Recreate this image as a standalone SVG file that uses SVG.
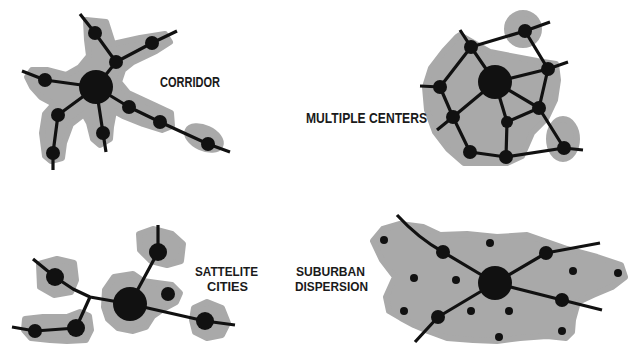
<svg xmlns="http://www.w3.org/2000/svg" width="634" height="344" viewBox="0 0 634 344">
<style>
.blob{fill:#a9a9a9;stroke:#a9a9a9;stroke-width:6;stroke-linejoin:round}
.ln{fill:none;stroke:#111;stroke-width:3.2;stroke-linecap:butt;stroke-linejoin:round}
.nd{fill:#111}
.lbl{font-family:"Liberation Sans",Arial,sans-serif;font-weight:bold;font-size:15px;fill:#1a1a1a}
.lbl2{font-family:"Liberation Sans",Arial,sans-serif;font-weight:bold;font-size:13px;fill:#1a1a1a}
</style>
<rect width="634" height="344" fill="#ffffff"/>

<g id="corridor">
<polygon class="blob" points="86,20 106,22 113,44 140,38 165,34 170,42 156,51 133,62 123,70 119,82 128,93 156,106 171,113 172,126 162,130 143,124 123,116 114,111 111,127 110,139 100,145 93,139 89,123 84,114 71,124 64,143 62,158 51,161 45,156 42,133 45,114 54,104 41,97 32,87 27,77 32,70 47,70 66,75 80,67 89,56 87,40"/>
<ellipse class="blob" cx="204" cy="138" rx="18" ry="10" transform="rotate(25 204 138)"/>
<path class="ln" d="M80,14 L95,33 L116,62 L96,87 M116,62 L152,43 L177,31 M22,71 L45,80 L96,87 M96,87 L58,115 L53,153 L53,170 M96,87 L103,133 L106,152 M96,87 L129,107 L160,122 L208,144 L230,152"/>
<circle class="nd" cx="96" cy="87" r="17"/>
<circle class="nd" cx="95" cy="33" r="7"/>
<circle class="nd" cx="116" cy="62" r="7"/>
<circle class="nd" cx="152" cy="43" r="7"/>
<circle class="nd" cx="45" cy="80" r="7"/>
<circle class="nd" cx="58" cy="115" r="7"/>
<circle class="nd" cx="53" cy="153" r="7"/>
<circle class="nd" cx="103" cy="133" r="7"/>
<circle class="nd" cx="129" cy="107" r="7"/>
<circle class="nd" cx="160" cy="122" r="7"/>
<circle class="nd" cx="208" cy="144" r="7"/>
<text class="lbl" x="160" y="87" textLength="60" lengthAdjust="spacingAndGlyphs">CORRIDOR</text>
</g>

<g id="multiple-centers">
<polygon class="blob" points="460,35 490,52 537,61 556,64 558,80 555,100 546,119 532,133 522,156 507,163 464,163 448,149 435,132 427,110 425,87 431,68 444,51 457,37"/>
<circle class="blob" cx="523" cy="29" r="16"/>
<ellipse class="blob" cx="563" cy="139" rx="14" ry="20"/>
<path class="ln" d="M460,30 L471,47 L525,31 L550,22 M525,31 L548,69 L568,62 M548,69 L495,82 M548,69 L539,108 L564,148 L583,150 M471,47 L495,82 M471,47 L440,87 L420,86 M440,87 L453,117 L437,130 M453,117 L495,82 M453,117 L470,152 L506,157 L564,148 M495,82 L539,108 L507,122 L495,82 M507,122 L506,157"/>
<circle class="nd" cx="495" cy="82" r="17"/>
<circle class="nd" cx="471" cy="47" r="7"/>
<circle class="nd" cx="525" cy="31" r="7"/>
<circle class="nd" cx="548" cy="69" r="7"/>
<circle class="nd" cx="440" cy="87" r="7"/>
<circle class="nd" cx="453" cy="117" r="7"/>
<circle class="nd" cx="539" cy="108" r="7"/>
<circle class="nd" cx="507" cy="122" r="6"/>
<circle class="nd" cx="470" cy="152" r="7"/>
<circle class="nd" cx="506" cy="157" r="7"/>
<circle class="nd" cx="564" cy="148" r="7"/>
<text class="lbl" x="306" y="123" textLength="121" lengthAdjust="spacingAndGlyphs">MULTIPLE  CENTERS</text>
</g>

<g id="satellite-cities">
<polygon class="blob" points="105,290 114,277 133,274 143,281 157,283 172,285 180,293 176,302 163,309 153,316 146,327 133,331 118,328 108,319 104,307"/>
<polygon class="blob" points="25,319 43,317 67,317 80,312 89,316 91,330 86,340 67,341 50,340 31,338 24,330"/>
<polygon class="blob" points="39,264 57,259 74,263 76,280 71,292 54,295 40,287"/>
<polygon class="blob" points="139,234 153,229 172,234 183,244 181,261 167,265 151,261 140,250"/>
<polygon class="blob" points="194,308 207,302 222,308 228,323 222,335 207,338 195,332 192,320"/>
<path class="ln" d="M33,259 L55,277 L73,289 L90,297 L130,304 L205,321 L235,325 M90,297 L76,328 M12,327 L35,331 L76,328 M130,304 L158,252 L158,225"/>
<circle class="nd" cx="130" cy="304" r="17"/>
<circle class="nd" cx="168" cy="294" r="7"/>
<circle class="nd" cx="158" cy="252" r="9"/>
<circle class="nd" cx="55" cy="277" r="9"/>
<circle class="nd" cx="205" cy="321" r="9"/>
<circle class="nd" cx="76" cy="328" r="9"/>
<circle class="nd" cx="35" cy="331" r="7"/>
<text class="lbl2" x="195" y="276" textLength="63" lengthAdjust="spacingAndGlyphs">SATTELITE</text>
<text class="lbl2" x="207" y="291" textLength="41" lengthAdjust="spacingAndGlyphs">CITIES</text>
</g>

<g id="suburban-dispersion">
<polygon class="blob" points="383,229 400,224 423,227 440,235 467,234 497,237 527,235 547,242 567,249 597,257 621,265 625,277 612,287 593,295 578,302 573,320 572,332 566,338 547,336 520,338 497,341 473,340 447,338 428,331 414,325 401,318 389,311 386,297 395,277 382,260 373,241"/>
<path class="ln" d="M397,215 Q418,238 443,252 L495,283 L546,253 L600,243 M495,283 L438,317 L415,342 M495,283 L562,300 L602,310"/>
<circle class="nd" cx="495" cy="283" r="17"/>
<circle class="nd" cx="443" cy="252" r="7"/>
<circle class="nd" cx="546" cy="253" r="7"/>
<circle class="nd" cx="438" cy="317" r="7"/>
<circle class="nd" cx="562" cy="300" r="7"/>
<circle class="nd" cx="384" cy="240" r="4"/>
<circle class="nd" cx="490" cy="243" r="4"/>
<circle class="nd" cx="573" cy="271" r="4"/>
<circle class="nd" cx="618" cy="273" r="4"/>
<circle class="nd" cx="414" cy="278" r="4"/>
<circle class="nd" cx="456" cy="280" r="4"/>
<circle class="nd" cx="404" cy="311" r="4"/>
<circle class="nd" cx="471" cy="311" r="4"/>
<circle class="nd" cx="509" cy="311" r="4"/>
<circle class="nd" cx="562" cy="331" r="4"/>
<circle class="nd" cx="499" cy="337" r="4"/>
<text class="lbl2" x="296" y="276" textLength="69" lengthAdjust="spacingAndGlyphs">SUBURBAN</text>
<text class="lbl2" x="295" y="291" textLength="73" lengthAdjust="spacingAndGlyphs">DISPERSION</text>
</g>
</svg>
